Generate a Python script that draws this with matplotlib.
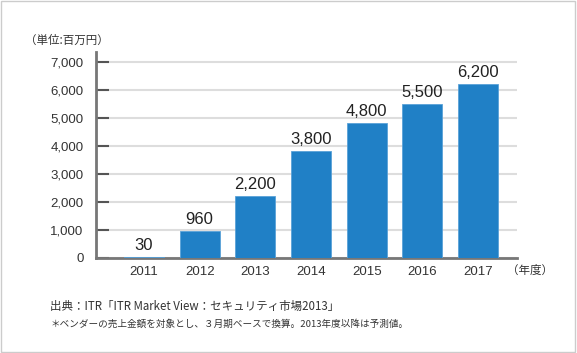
import matplotlib
matplotlib.use('Agg')
import matplotlib.pyplot as plt
from matplotlib.patches import Rectangle

years = ['2011', '2012', '2013', '2014', '2015', '2016', '2017']
values = [30, 960, 2200, 3800, 4800, 5500, 6200]
value_labels = ['30', '960', '2,200', '3,800', '4,800', '5,500', '6,200']
yticks = [0, 1000, 2000, 3000, 4000, 5000, 6000, 7000]
ytick_labels = ['0', '1,000', '2,000', '3,000', '4,000', '5,000', '6,000', '7,000']

num = 'Liberation Sans'
jp = ['Noto Sans CJK JP', 'DejaVu Sans']

fig = plt.figure(figsize=(5.77, 3.53), dpi=100)
ax = fig.add_axes([96/577, 1 - 258/353, 421/577, 206/353])

# outer frame
fig.patches.append(Rectangle((0.002, 0.003), 0.995, 0.993, transform=fig.transFigure,
                             fill=False, edgecolor='#cccccc', linewidth=1))

x = range(len(years))
ax.bar(x, values, width=0.72, color='#2080c6', edgecolor='#5aa2d8', linewidth=0.6, zorder=3)
for i, v in enumerate(values):
  ax.text(i, v + 150, value_labels[i], ha='center', va='bottom', fontsize=12,
          color='#222222', family=num)

ax.set_xlim(-0.862, 6.70)
ax.set_ylim(0, 7350)
ax.set_yticks(yticks)
ax.set_yticklabels(ytick_labels, fontsize=9.5, color='#333333', family=num)
ax.set_xticks(list(x))
ax.set_xticklabels(years, fontsize=9.5, color='#333333', family=num)
ax.grid(axis='y', color='#dddddd', linewidth=1.5, zorder=0)
ax.set_axisbelow(True)

for s in ['top', 'right']:
  ax.spines[s].set_visible(False)
ax.spines['left'].set_color('#777777')
ax.spines['left'].set_linewidth(2)
ax.spines['bottom'].set_color('#777777')
ax.spines['bottom'].set_linewidth(2)
ax.tick_params(axis='y', direction='in', length=9, width=1.5, color='#555555', pad=9)
ax.tick_params(axis='x', length=0, pad=6)

fig.text(25/577, 1 - 40/353, '（単位:百万円）', fontsize=8.3, color='#333333', va='center', ha='left', family=jp)
fig.text(507/577, 1 - 270/353, '（年度）', fontsize=8.3, color='#333333', va='center', ha='left', family=jp)
fig.text(50/577, 1 - 306/353, '出典：ITR「ITR Market View：セキュリティ市場2013」', fontsize=8.3,
         color='#333333', va='center', ha='left', family=jp)
fig.text(50/577, 1 - 324/353, '＊ベンダーの売上金額を対象とし、３月期ベースで換算。2013年度以降は予測値。',
         fontsize=6.9, color='#333333', va='center', ha='left', family=jp)

fig.savefig('out.png', dpi=100)
